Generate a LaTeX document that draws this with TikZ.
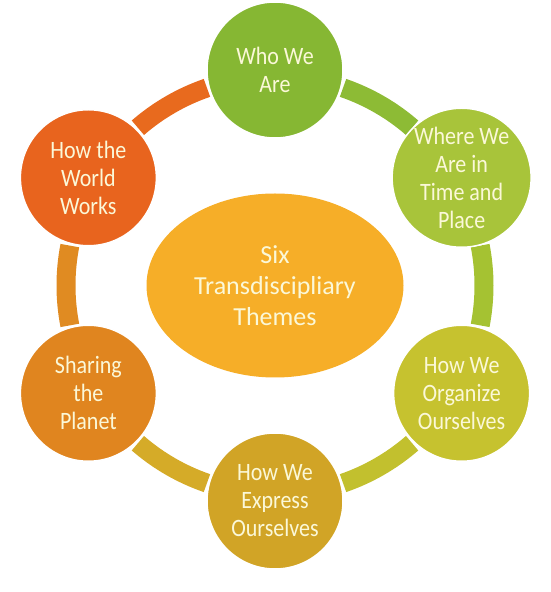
\documentclass[tikz,border=0pt]{standalone}
\usepackage{fontspec}
\setmainfont{Carlito}
\newfontfamily\narrowfont{Carlito}[FakeStretch=0.88]
\usetikzlibrary{shapes.geometric}
\definecolor{txt}{HTML}{FBF8D8}
\definecolor{cWho}{HTML}{86B733}
\definecolor{cWhere}{HTML}{A8C43A}
\definecolor{cOrg}{HTML}{C6C22F}
\definecolor{cExp}{HTML}{D1A426}
\definecolor{cShare}{HTML}{E0851F}
\definecolor{cWorld}{HTML}{E8641E}
\definecolor{cMid}{HTML}{F6AE28}
\definecolor{sTL}{HTML}{E86A1E}
\definecolor{sTR}{HTML}{8DBB35}
\definecolor{sR}{HTML}{A5C232}
\definecolor{sBR}{HTML}{C2C02E}
\definecolor{sBL}{HTML}{D5AB28}
\definecolor{sL}{HTML}{E08B22}
\begin{document}
\begin{tikzpicture}[x=1pt,y=1pt,
  theme/.style={circle, minimum size=136pt, inner sep=0pt, draw=white,
    line width=1.5pt, text=txt, align=center,
    font=\narrowfont\fontsize{25}{28}\selectfont},
  ringseg/.style={line width=19pt, line cap=butt}]
\useasboundingbox (0,0) rectangle (551,592);
\coordinate (o) at (275,306.5);
% ring segments
\foreach \a/\c/\n in {90/sTL/tl, 30/sTR/tr, -30/sR/r, -90/sBR/br, -150/sBL/bl, 150/sL/l}{
  \coordinate (s\n) at ([shift={(\a+19:209)}]o);
  \draw[ringseg, draw=\c] (s\n) arc[start angle=\a+19, end angle=\a+41, radius=209];
}
% centre
\node[ellipse, minimum width=257pt, minimum height=184pt, inner sep=0pt,
  fill=cMid, text=txt, align=center, font=\fontsize{26}{31}\selectfont]
  (mid) at (o) {Six\\Transdiscipliary\\Themes};
% themes
\node[theme, fill=cWho]   (who)   at ([shift={(90:215.5)}]o)  {Who We\\Are};
\node[theme, fill=cWhere] (where) at ([shift={(30:215.5)}]o)  {Where We\\Are in\\Time and\\Place};
\node[theme, fill=cOrg]   (org)   at ([shift={(-30:215.5)}]o) {How We\\Organize\\Ourselves};
\node[theme, fill=cExp]   (exp)   at ([shift={(-90:215.5)}]o) {How We\\Express\\Ourselves};
\node[theme, fill=cShare] (share) at ([shift={(-150:215.5)}]o){Sharing\\the\\Planet};
\node[theme, fill=cWorld] (world) at ([shift={(150:215.5)}]o) {How the\\World\\Works};
\end{tikzpicture}
\end{document}
